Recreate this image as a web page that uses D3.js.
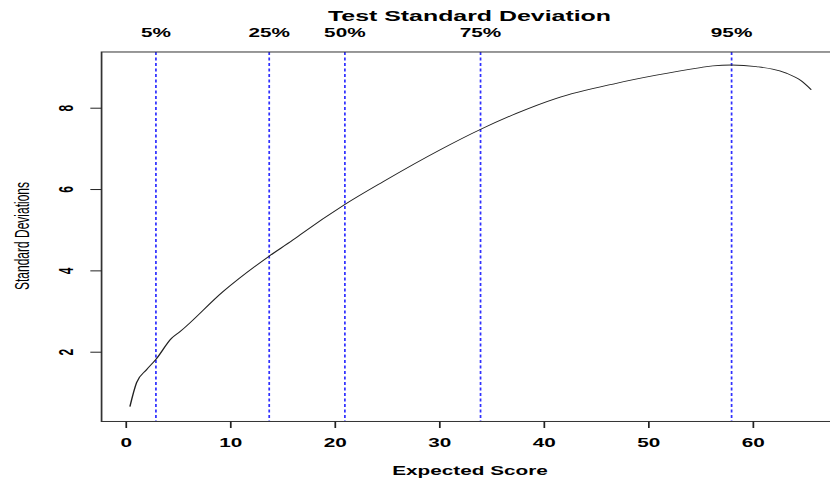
<!DOCTYPE html>
<html>
<head>
<meta charset="utf-8">
<script src="https://cdn.jsdelivr.net/npm/d3@7"></script>
<style>
  html, body { margin: 0; padding: 0; background: #fff; }
  svg { display: block; }
  text { font-family: "Liberation Sans", Arial, Helvetica, sans-serif; fill: #000; }
</style>
</head>
<body>
<svg id="chart" width="830" height="480"></svg>
<script>
// ---- data ----
const expectedScore = [0.43, 1.07, 2.0, 2.92, 4.42, 5.21, 9.35, 13.75, 16.05, 16.69, 20.99, 24.65, 30.08, 34.0, 37.41, 41.24, 46.97, 50.8, 54.87, 56.21, 57.97, 60.36, 63.23, 64.66, 65.62];
const stdDev       = [0.65, 1.24, 1.55, 1.81, 2.33, 2.49, 3.48, 4.35, 4.75, 4.87, 5.62, 6.18, 6.96, 7.47, 7.86, 8.23, 8.60, 8.80, 8.98, 9.03, 9.05, 9.01, 8.85, 8.66, 8.44];
const pctLabels = ["5%", "25%", "50%", "75%", "95%"];
const pctValues = [2.92, 13.76, 21.0, 33.98, 58.0];
const xTicks = [0, 10, 20, 30, 40, 50, 60];
const yTicks = [2, 4, 6, 8];
const titleText = "Test Standard Deviation";
const xLabel = "Expected Score";
const yLabel = "Standard Deviations";

(function () {
// ---- layout (picture is horizontally stretched) ----
const SX = 830 / 480;
const svg = d3.select("#chart");
svg.append("rect").attr("width", 830).attr("height", 480).attr("fill", "#fff");
const g = svg.append("g").attr("transform", `scale(${SX},1)`);

const x = d3.scaleLinear().domain([0, 60]).range([125.4 / SX, 752.5 / SX]);
const y = d3.scaleLinear().domain([2, 8]).range([351.7, 107.7]);
const usrX = [-2.28, 68.16];
const usrY = [0.284, 9.37];

const boxL = x(usrX[0]), boxR = x(usrX[1]), boxT = y(usrY[1]), boxB = y(usrY[0]);

// percentile lines
g.append("g").selectAll("line").data(pctValues).join("line")
  .attr("x1", d => x(d)).attr("x2", d => x(d))
  .attr("y1", boxT).attr("y2", boxB)
  .attr("stroke", "#3030ff").attr("stroke-width", 1)
  .attr("stroke-dasharray", "3,2.5");

// curve
const line = d3.line().x((d, i) => x(expectedScore[i])).y((d, i) => y(stdDev[i])).curve(d3.curveMonotoneX);
g.append("path").datum(stdDev).attr("d", line)
  .attr("fill", "none").attr("stroke", "#222").attr("stroke-width", 0.8);

// box
g.append("rect").attr("x", boxL).attr("y", boxT)
  .attr("width", boxR - boxL).attr("height", boxB - boxT)
  .attr("fill", "none").attr("stroke", "#333").attr("stroke-width", 1);

// x axis
const xAxis = g.append("g").attr("transform", `translate(0,${boxB})`)
  .call(d3.axisBottom(x).tickValues(xTicks).tickSize(6.5).tickFormat(d3.format("d")));
xAxis.select(".domain").remove();
xAxis.selectAll(".tick line").attr("stroke", "#222");
xAxis.selectAll(".tick text")
  .attr("y", 447 - boxB).attr("dy", null)
  .attr("font-size", 12).attr("font-weight", "bold")
  .attr("font-family", null);

// y axis
const yAxis = g.append("g").attr("transform", `translate(${boxL},0)`)
  .call(d3.axisLeft(y).tickValues(yTicks).tickSize(6.5).tickFormat(d3.format("d")));
yAxis.select(".domain").remove();
yAxis.selectAll(".tick line").attr("stroke", "#222");
yAxis.selectAll(".tick text")
  .attr("x", null).attr("dy", null)
  .attr("text-anchor", "middle")
  .attr("transform", `translate(${72.7 / SX - boxL},0) rotate(-90)`)
  .attr("font-size", 12).attr("font-weight", "bold")
  .attr("font-family", null);

// percentile labels on top
g.append("g").selectAll("text").data(pctValues).join("text")
  .attr("x", d => x(d)).attr("y", 37)
  .attr("text-anchor", "middle")
  .attr("font-size", 12).attr("font-weight", "bold")
  .text((d, i) => pctLabels[i]);

// title
g.append("text").attr("x", 469.5 / SX).attr("y", 21)
  .attr("text-anchor", "middle").attr("font-size", 14.4).attr("font-weight", "bold")
  .text(titleText);

// axis titles
g.append("text").attr("x", 470 / SX).attr("y", 475)
  .attr("text-anchor", "middle").attr("font-size", 12).attr("font-weight", "bold")
  .text(xLabel);

g.append("text")
  .attr("transform", `translate(${28.6 / SX},236) rotate(-90)`)
  .attr("text-anchor", "middle").attr("font-size", 12)
  .text(yLabel);
})();
</script>
</body>
</html>
